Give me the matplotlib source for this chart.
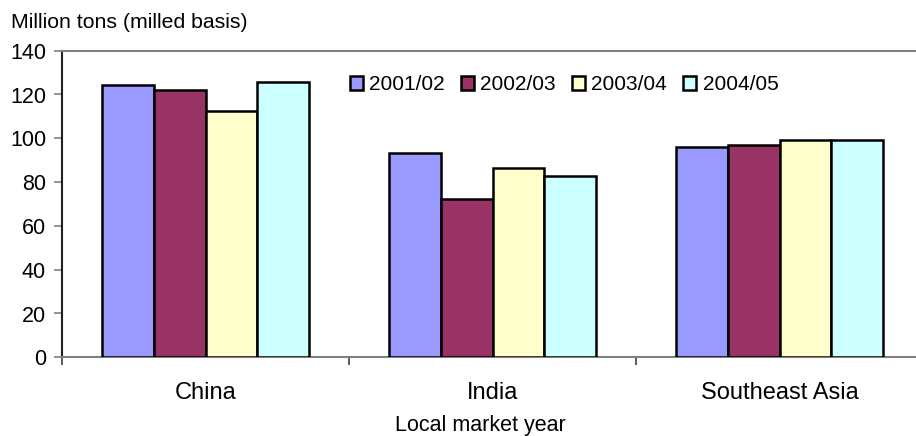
import matplotlib
matplotlib.use("Agg")
import matplotlib.pyplot as plt
import numpy as np
from matplotlib.patches import Patch

plt.rcParams["font.family"] = ["Liberation Sans", "DejaVu Sans"]

regions = ["China", "India", "Southeast Asia"]
years = ["2001/02", "2002/03", "2003/04", "2004/05"]
values = {
    "2001/02": [124.3, 93.2, 95.9],
    "2002/03": [121.9, 72.4, 96.9],
    "2003/04": [112.3, 86.3, 99.2],
    "2004/05": [125.6, 82.9, 99.2],
}
colors = ["#9999FF", "#993366", "#FFFFCC", "#CCFFFF"]
yticks = [0, 20, 40, 60, 80, 100, 120, 140]

fig = plt.figure(figsize=(9.16, 4.36), dpi=100)
ax = fig.add_axes([62 / 916, 78.7 / 436, 861 / 916, 306.6 / 436])

x = np.arange(len(regions))
bw = 0.181
for i, (yr, col) in enumerate(zip(years, colors)):
    ax.bar(x + (i - 1.5) * bw, values[yr], width=bw, color=col,
           edgecolor="black", linewidth=1.8, zorder=3)

ax.set_xlim(-0.5, 2.5)
ax.set_ylim(0, 140)
ax.set_yticks(yticks)
ax.set_yticklabels([str(t) for t in yticks], fontsize=15.5)
ax.tick_params(axis="y", direction="out", length=5.5, width=1.2, color="#808080", pad=6)

# category boundaries carry the x tick marks; names sit at the centres
ax.set_xticks([-0.5, 0.5, 1.5, 2.5])
ax.set_xticklabels([])
ax.tick_params(axis="x", direction="out", length=5.5, width=1.2, color="#404040")
for xi, name in zip(x, regions):
    ax.text(xi, -0.115, name, transform=ax.get_xaxis_transform(),
            ha="center", va="center", fontsize=17)

for side in ["top", "right", "bottom"]:
    ax.spines[side].set_color("#808080")
    ax.spines[side].set_linewidth(1.5)
ax.spines["left"].set_color("#202020")
ax.spines["left"].set_linewidth(1.5)

handles = [Patch(facecolor=c, edgecolor="black", linewidth=1.8) for c in colors]
ax.legend(handles, years, loc="center", bbox_to_anchor=(564 / 916, 1 - 85 / 436),
          bbox_transform=fig.transFigure, ncol=4, frameon=False, fontsize=15,
          handlelength=0.65, handleheight=0.65, handletextpad=0.3,
          columnspacing=0.75, borderpad=0)

fig.text(11 / 916, 1 - 22 / 436, "Million tons (milled basis)", ha="left",
         va="center", fontsize=15.3)
fig.text(480 / 916, 1 - 425 / 436, "Local market year", ha="center",
         va="center", fontsize=15.5)

fig.savefig("out.png", dpi=100)
